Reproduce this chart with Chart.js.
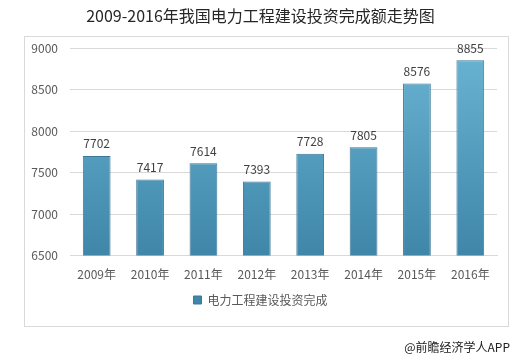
<!DOCTYPE html>
<html>
<head>
<meta charset="utf-8">
<script src="https://cdn.jsdelivr.net/npm/chart.js@4"></script>
<style>
  html, body { margin: 0; padding: 0; background: #fff; }
  #wrap { width: 531px; height: 360px; }
</style>
</head>
<body>
<div id="wrap"><canvas id="myChart" width="531" height="360"></canvas></div>
<script>
const years = ["2009年", "2010年", "2011年", "2012年", "2013年", "2014年", "2015年", "2016年"];
const investment = [7702, 7417, 7614, 7393, 7728, 7805, 8576, 8855];
const yTicks = [6500, 7000, 7500, 8000, 8500, 9000];
const seriesName = "电力工程建设投资完成";
const chartTitle = "2009-2016年我国电力工程建设投资完成额走势图";
const footer = "@前瞻经济学人APP";

const font = "'Microsoft YaHei', 'Noto Sans CJK SC', sans-serif";

// frame, value labels and footer
const extras = {
  id: "extras",
  beforeDraw(chart) {
    const c = chart.ctx;
    c.save();
    c.strokeStyle = "#d9d9d9";
    c.lineWidth = 1;
    c.strokeRect(24.5, 36.5, 484, 290);
    c.restore();
  },
  afterDatasetsDraw(chart) {
    const c = chart.ctx;
    const meta = chart.getDatasetMeta(0);
    c.save();
    c.font = "12px " + font;
    c.fillStyle = "#404040";
    c.textAlign = "center";
    c.textBaseline = "bottom";
    meta.data.forEach((bar, i) => {
      c.fillText(investment[i], bar.x, bar.y - 6);
    });
    c.font = "12px " + font;
    c.fillStyle = "#222";
    c.textAlign = "right";
    c.textBaseline = "middle";
    c.fillText(footer, 510, 347);
    c.restore();
  }
};

function barFill(context) {
  const area = context.chart.chartArea;
  if (!area) return "#5aa5c6";
  const g = context.chart.ctx.createLinearGradient(0, area.top, 0, area.bottom);
  g.addColorStop(0, "#6ab4d3");
  g.addColorStop(1, "#3f86a8");
  return g;
}

const ctx = document.getElementById("myChart").getContext("2d");
new Chart(ctx, {
  type: "bar",
  data: {
    labels: years,
    datasets: [{
      label: seriesName,
      data: investment,
      backgroundColor: barFill,
      borderColor: "#3b7898",
      borderWidth: 1,
      barPercentage: 0.52,
      categoryPercentage: 1
    }]
  },
  options: {
    responsive: false,
    animation: false,
    layout: { padding: { left: 24, right: 34, top: 0, bottom: 44 } },
    plugins: {
      title: {
        display: true,
        text: chartTitle,
        color: "#262626",
        font: { family: font, size: 16, weight: "normal" },
        padding: { top: 6, bottom: 23 }
      },
      legend: {
        position: "bottom",
        labels: {
          color: "#595959",
          font: { family: font, size: 12 },
          boxWidth: 8,
          boxHeight: 8,
          padding: 8
        }
      },
      tooltip: { enabled: false }
    },
    scales: {
      x: {
        grid: { display: false },
        border: { color: "#d9d9d9" },
        ticks: { color: "#595959", font: { family: font, size: 12 }, padding: 4 }
      },
      y: {
        min: 6500,
        max: 9000,
        afterFit: s => { s.width = 46; },
        afterBuildTicks: s => { s.ticks = yTicks.map(v => ({ value: v })); },
        grid: { color: "#d9d9d9", drawTicks: false },
        border: { display: false },
        ticks: {
          color: "#595959",
          font: { family: font, size: 12 },
          padding: 12,
          callback: v => String(v)
        }
      }
    }
  },
  plugins: [extras]
});
</script>
</body>
</html>
